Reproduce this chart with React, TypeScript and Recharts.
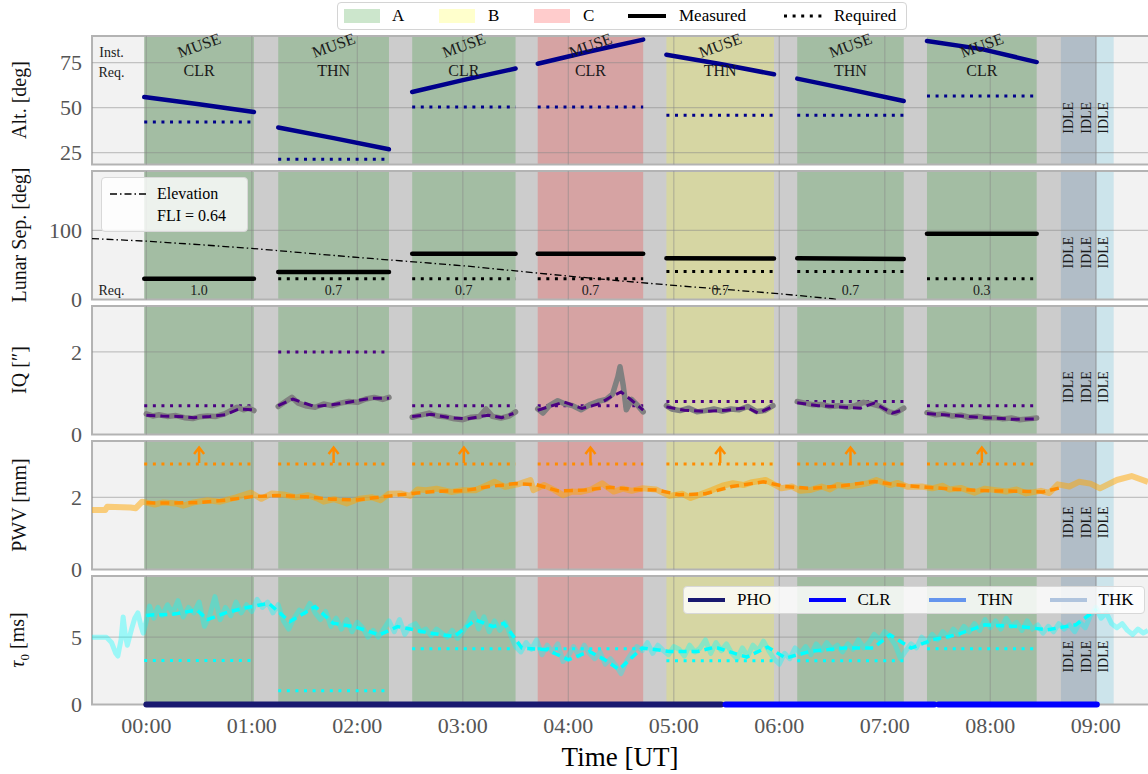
import React from "react";
import {
  ComposedChart,
  Line,
  XAxis,
  YAxis,
  ReferenceArea,
  ReferenceLine,
  ReferenceDot,
} from "recharts";

const FONT = '"Liberation Serif", "DejaVu Serif", serif';

// time axis (hours UT)
const hourTicks = [0, 1, 2, 3, 4, 5, 6, 7, 8, 9];
const xDomain = [-0.515, 9.495];
const nightSpan = [-0.02, 9.01];

// observation blocks
const obsStart = [-0.02, 1.25, 2.52, 3.71, 4.93, 6.17, 7.4];
const obsEnd = [1.02, 2.3, 3.5, 4.71, 5.95, 7.18, 8.44];
const obsCondition = ["A", "A", "A", "C", "B", "A", "A"];
const obsInstrument = ["MUSE", "MUSE", "MUSE", "MUSE", "MUSE", "MUSE", "MUSE"];
const obsSkyRequest = ["CLR", "THN", "CLR", "CLR", "THN", "THN", "CLR"];
const idleSpans = [
  [8.67, 9.01],
  [9.01, 9.17],
];
const idleLabels = [8.74, 8.91, 9.07];

// altitude [deg]: start, mid, end of each block
const altMeasured = [
  [55.9, 51.9, 47.6],
  [38.9, 33.0, 26.8],
  [58.7, 65.4, 71.7],
  [74.4, 81.3, 87.8],
  [79.4, 74.2, 68.5],
  [66.1, 60.0, 53.7],
  [87.0, 82.5, 75.3],
];
const altRequired = [42.0, 21.3, 50.3, 50.3, 45.7, 45.7, 56.5];

// lunar separation [deg]: start, end
const lunarMeasured = [
  [30.3, 30.3],
  [39.8, 39.8],
  [66.4, 66.4],
  [66.4, 66.4],
  [59.7, 59.4],
  [59.8, 58.8],
  [95.2, 95.2],
];
const lunarRequired = [30.3, 30.3, 30.3, 30.3, 40.8, 40.8, 30.3];
const fliRequired = ["1.0", "0.7", "0.7", "0.7", "0.7", "0.7", "0.3"];
const moonElevation = [
  [-0.515, 88.3], [0, 84.5], [0.5, 79.5], [1, 74], [1.5, 67.5], [2, 61],
  [2.5, 55], [3, 49], [3.5, 41.5], [4, 34], [4.5, 27], [5, 20.5],
  [5.5, 14.5], [6, 8.5], [6.5, 1.2], [6.56, 0],
];

// image quality [arcsec]
const iqRequired = [0.7, 2.0, 0.7, 0.7, 0.8, 0.8, 0.7];
const iqRaw = [
  [[0.0, 0.5], [0.06, 0.45], [0.12, 0.48], [0.2, 0.44], [0.28, 0.46], [0.36, 0.41], [0.44, 0.39], [0.5, 0.43], [0.58, 0.45], [0.66, 0.44], [0.74, 0.5], [0.8, 0.58], [0.86, 0.66], [0.92, 0.6], [0.97, 0.64], [1.02, 0.58]],
  [[1.25, 0.68], [1.32, 0.8], [1.38, 0.9], [1.44, 0.76], [1.52, 0.69], [1.6, 0.66], [1.68, 0.74], [1.76, 0.7], [1.84, 0.76], [1.92, 0.8], [2.0, 0.78], [2.08, 0.86], [2.16, 0.9], [2.24, 0.85], [2.3, 0.9]],
  [[2.52, 0.42], [2.6, 0.47], [2.68, 0.52], [2.76, 0.45], [2.84, 0.43], [2.92, 0.38], [3.0, 0.36], [3.08, 0.42], [3.16, 0.44], [3.22, 0.62], [3.28, 0.44], [3.36, 0.4], [3.44, 0.45], [3.5, 0.55]],
  [[3.71, 0.62], [3.76, 0.52], [3.82, 0.7], [3.9, 0.82], [3.96, 0.75], [4.04, 0.7], [4.12, 0.6], [4.2, 0.72], [4.28, 0.8], [4.36, 0.85], [4.42, 0.98], [4.47, 1.4], [4.49, 1.64], [4.52, 1.2], [4.55, 0.6], [4.6, 0.85], [4.66, 0.7], [4.71, 0.55]],
  [[4.93, 0.7], [4.98, 0.62], [5.06, 0.58], [5.14, 0.64], [5.22, 0.55], [5.3, 0.58], [5.38, 0.62], [5.46, 0.57], [5.54, 0.62], [5.62, 0.6], [5.7, 0.68], [5.78, 0.56], [5.86, 0.58], [5.94, 0.7]],
  [[6.17, 0.8], [6.24, 0.76], [6.32, 0.72], [6.4, 0.73], [6.48, 0.68], [6.56, 0.7], [6.64, 0.66], [6.72, 0.7], [6.8, 0.78], [6.88, 0.74], [6.96, 0.68], [7.04, 0.55], [7.1, 0.52], [7.18, 0.64]],
  [[7.4, 0.53], [7.48, 0.48], [7.56, 0.5], [7.64, 0.45], [7.72, 0.47], [7.8, 0.42], [7.88, 0.44], [7.96, 0.4], [8.04, 0.41], [8.12, 0.38], [8.2, 0.4], [8.28, 0.36], [8.36, 0.38], [8.44, 0.4]],
];
const iqSmooth = [
  [[0.0, 0.47], [0.15, 0.45], [0.3, 0.44], [0.45, 0.41], [0.6, 0.44], [0.75, 0.48], [0.88, 0.62], [1.02, 0.6]],
  [[1.25, 0.7], [1.39, 0.86], [1.59, 0.68], [1.76, 0.72], [1.93, 0.79], [2.13, 0.88], [2.3, 0.88]],
  [[2.52, 0.44], [2.7, 0.49], [2.87, 0.41], [3.04, 0.38], [3.24, 0.47], [3.37, 0.41], [3.48, 0.51]],
  [[3.71, 0.59], [3.85, 0.7], [3.96, 0.79], [4.13, 0.63], [4.3, 0.75], [4.4, 0.91], [4.5, 1.03], [4.6, 0.83], [4.71, 0.59]],
  [[4.93, 0.67], [5.1, 0.59], [5.3, 0.56], [5.5, 0.59], [5.7, 0.65], [5.8, 0.52], [5.93, 0.67]],
  [[6.17, 0.77], [6.37, 0.7], [6.57, 0.67], [6.77, 0.64], [6.9, 0.76], [7.07, 0.52], [7.18, 0.6]],
  [[7.4, 0.51], [7.62, 0.47], [7.82, 0.43], [8.02, 0.4], [8.22, 0.37], [8.44, 0.38]],
];

// precipitable water vapour [mm]
const pwvRequired = [2.92, 2.92, 2.92, 2.92, 2.92, 2.92, 2.92];
const pwvRaw = [
  [-0.515, 1.65], [-0.39, 1.65], [-0.37, 1.74], [-0.15, 1.72], [-0.1, 1.7], [-0.04, 1.88], [0.08, 1.8], [0.16, 1.86],
  [0.28, 1.83], [0.35, 1.77], [0.45, 1.86], [0.58, 1.92], [0.7, 1.88], [0.85, 2.0], [0.99, 2.13], [1.09, 1.96],
  [1.19, 2.11], [1.3, 2.08], [1.42, 2.0], [1.53, 2.06], [1.62, 1.97], [1.68, 1.88], [1.78, 1.95], [1.9, 1.83],
  [2.02, 1.96], [2.14, 2.0], [2.22, 1.92], [2.3, 2.1], [2.41, 2.11], [2.5, 2.04], [2.57, 2.22], [2.65, 2.2],
  [2.75, 2.24], [2.89, 2.15], [3.0, 2.2], [3.12, 2.2], [3.2, 2.3], [3.3, 2.43], [3.4, 2.29], [3.52, 2.36],
  [3.64, 2.48], [3.67, 2.2], [3.77, 2.34], [3.87, 2.2], [3.95, 2.06], [4.04, 2.16], [4.12, 2.15], [4.22, 2.22],
  [4.32, 2.39], [4.43, 2.16], [4.52, 2.24], [4.6, 2.18], [4.7, 2.25], [4.83, 2.22], [4.96, 2.04], [5.08, 2.1],
  [5.16, 1.98], [5.23, 2.06], [5.36, 2.2], [5.46, 2.32], [5.56, 2.39], [5.66, 2.34], [5.73, 2.41], [5.87, 2.48],
  [5.95, 2.36], [6.02, 2.25], [6.12, 2.3], [6.2, 2.18], [6.29, 2.2], [6.4, 2.3], [6.48, 2.22], [6.55, 2.34],
  [6.65, 2.3], [6.75, 2.34], [6.85, 2.4], [6.92, 2.48], [7.05, 2.34], [7.12, 2.4], [7.22, 2.29], [7.35, 2.3],
  [7.45, 2.25], [7.55, 2.32], [7.61, 2.22], [7.72, 2.26], [7.85, 2.13], [7.95, 2.24], [8.05, 2.2], [8.15, 2.16],
  [8.25, 2.22], [8.34, 2.11], [8.48, 2.18], [8.56, 2.12], [8.64, 2.36], [8.75, 2.3], [8.84, 2.43], [8.95, 2.38],
  [9.04, 2.25], [9.2, 2.48], [9.34, 2.59], [9.495, 2.43],
];
const pwvSmooth = [
  [0.0, 1.85], [0.25, 1.84], [0.5, 1.86], [0.75, 1.92], [1.0, 2.02], [1.25, 2.05], [1.5, 2.02], [1.75, 1.95],
  [2.0, 1.93], [2.25, 2.02], [2.5, 2.1], [2.75, 2.17], [3.0, 2.18], [3.25, 2.3], [3.5, 2.38], [3.7, 2.35],
  [3.9, 2.18], [4.15, 2.2], [4.4, 2.28], [4.6, 2.22], [4.85, 2.2], [5.05, 2.07], [5.3, 2.1], [5.55, 2.3],
  [5.85, 2.43], [6.05, 2.3], [6.3, 2.25], [6.6, 2.32], [6.9, 2.44], [7.1, 2.35], [7.4, 2.28], [7.7, 2.22],
  [8.0, 2.18], [8.3, 2.17], [8.5, 2.15], [8.67, 2.27],
];

// coherence time tau0 [ms]
const tauRequired = [3.27, 1.03, 4.14, 4.14, 3.25, 3.25, 4.14];
const tauRaw = [
  [-0.515, 5.0], [-0.45, 5.0], [-0.38, 5.0], [-0.33, 4.6], [-0.29, 3.8], [-0.27, 3.6], [-0.24, 4.8], [-0.22, 6.5],
  [-0.2, 5.2], [-0.18, 4.4], [-0.14, 5.6], [-0.11, 6.4], [-0.08, 6.8], [-0.05, 5.8], [-0.03, 5.3], [0.0, 6.2],
  [0.03, 7.3], [0.07, 6.4], [0.11, 7.2], [0.15, 6.6], [0.2, 7.4], [0.25, 6.8], [0.3, 7.7], [0.35, 6.5],
  [0.4, 7.2], [0.45, 6.8], [0.5, 7.6], [0.55, 5.8], [0.6, 6.6], [0.65, 8.0], [0.7, 6.3], [0.75, 7.2],
  [0.8, 6.6], [0.85, 7.6], [0.9, 6.8], [0.95, 7.4], [1.0, 6.9], [1.05, 7.8], [1.1, 7.2], [1.15, 7.6],
  [1.2, 6.8], [1.25, 7.4], [1.3, 6.2], [1.35, 5.6], [1.4, 6.4], [1.45, 7.0], [1.5, 6.8], [1.55, 7.5],
  [1.6, 6.8], [1.65, 6.3], [1.7, 6.9], [1.75, 5.8], [1.8, 6.4], [1.85, 5.6], [1.9, 6.3], [1.95, 5.4],
  [2.0, 6.1], [2.05, 5.7], [2.1, 5.0], [2.15, 5.5], [2.2, 5.0], [2.25, 5.6], [2.3, 6.2], [2.35, 5.4],
  [2.4, 6.3], [2.45, 5.2], [2.5, 5.8], [2.55, 6.0], [2.6, 5.4], [2.65, 5.6], [2.7, 5.1], [2.75, 5.6],
  [2.8, 5.3], [2.85, 5.0], [2.9, 5.5], [2.95, 4.9], [3.0, 5.4], [3.05, 6.0], [3.1, 6.8], [3.15, 5.6],
  [3.2, 6.5], [3.25, 5.4], [3.3, 6.2], [3.35, 5.5], [3.4, 6.1], [3.45, 5.2], [3.5, 4.3], [3.55, 3.9],
  [3.6, 4.6], [3.65, 4.1], [3.7, 4.8], [3.75, 3.7], [3.8, 4.4], [3.85, 3.9], [3.9, 4.5], [3.95, 3.2],
  [4.0, 3.6], [4.05, 4.3], [4.1, 3.6], [4.15, 4.4], [4.2, 3.8], [4.25, 3.4], [4.3, 3.9], [4.35, 3.0],
  [4.4, 3.4], [4.45, 2.9], [4.5, 2.3], [4.55, 3.2], [4.6, 3.8], [4.65, 4.3], [4.7, 4.0], [4.75, 4.6],
  [4.8, 3.8], [4.85, 4.4], [4.9, 4.0], [4.95, 3.7], [5.0, 4.3], [5.05, 4.1], [5.1, 3.6], [5.15, 4.4],
  [5.2, 3.9], [5.25, 4.2], [5.3, 4.8], [5.35, 3.8], [5.4, 4.6], [5.45, 4.0], [5.5, 4.5], [5.55, 3.8],
  [5.6, 3.4], [5.65, 4.2], [5.7, 3.6], [5.75, 4.4], [5.8, 4.0], [5.85, 4.7], [5.9, 4.0], [5.95, 3.4],
  [6.0, 3.0], [6.05, 3.8], [6.1, 3.4], [6.15, 4.2], [6.2, 3.8], [6.25, 4.3], [6.3, 3.7], [6.35, 4.5],
  [6.4, 4.0], [6.45, 4.6], [6.5, 4.1], [6.55, 4.4], [6.6, 3.9], [6.65, 4.5], [6.7, 4.1], [6.75, 4.8],
  [6.8, 4.2], [6.85, 4.6], [6.9, 5.2], [6.95, 4.8], [7.0, 5.4], [7.05, 5.0], [7.1, 4.4], [7.15, 3.4],
  [7.2, 4.0], [7.25, 4.5], [7.3, 4.2], [7.35, 5.0], [7.4, 4.6], [7.45, 5.2], [7.5, 4.8], [7.55, 5.4],
  [7.6, 5.0], [7.65, 5.6], [7.7, 5.2], [7.75, 5.8], [7.8, 5.4], [7.85, 6.0], [7.9, 5.5], [7.95, 6.3],
  [8.0, 5.7], [8.05, 6.2], [8.1, 5.6], [8.15, 6.4], [8.2, 5.8], [8.25, 6.1], [8.3, 5.5], [8.35, 6.2],
  [8.4, 5.6], [8.45, 5.9], [8.5, 5.3], [8.55, 5.8], [8.6, 5.4], [8.65, 6.0], [8.7, 5.6], [8.75, 5.9],
  [8.8, 5.4], [8.85, 6.1], [8.9, 5.7], [8.95, 6.6], [9.0, 7.2], [9.05, 6.4], [9.1, 6.8], [9.15, 6.0],
  [9.2, 5.7], [9.25, 6.0], [9.3, 5.5], [9.35, 5.2], [9.4, 5.6], [9.45, 5.3], [9.495, 5.5],
];
const tauSmooth = [
  [0.0, 6.6], [0.07, 6.65], [0.25, 6.7], [0.48, 7.0], [0.58, 6.3], [0.75, 6.8], [0.92, 7.14], [1.16, 7.5],
  [1.36, 6.15], [1.6, 7.26], [1.77, 6.03], [1.97, 5.78], [2.21, 5.17], [2.38, 5.78], [2.5, 5.6], [2.68, 5.3],
  [2.92, 5.05], [3.12, 6.28], [3.29, 5.78], [3.39, 6.03], [3.56, 4.19], [3.8, 4.06], [4.0, 3.32], [4.2, 3.94],
  [4.35, 3.3], [4.48, 2.6], [4.7, 4.19], [4.96, 3.94], [5.23, 3.94], [5.39, 4.26], [5.69, 3.52], [5.89, 4.26],
  [6.06, 3.45], [6.29, 3.94], [6.62, 4.19], [6.89, 4.19], [7.05, 5.17], [7.25, 4.19], [7.45, 4.8], [7.68, 5.17],
  [7.95, 5.91], [8.28, 5.78], [8.54, 5.54], [8.81, 5.91], [9.01, 7.07],
];

// sky transparency bands at the bottom
const bandStart = [0.0, 5.49, 7.51];
const bandEnd = [5.45, 7.47, 9.01];
const bandFilter = ["PHO", "CLR", "CLR"];

const conditionColor: Record<string, string> = { A: "#008000", B: "#ffff00", C: "#ff0000" };
const filterColor: Record<string, string> = {
  PHO: "#191970",
  CLR: "#0000ff",
  THN: "#6495ed",
  THK: "#b0c4de",
};

const PANEL_TOP = 35.7;
const PANEL_PITCH = 135;
const PANEL_H = 128.6;
const PLOT_LEFT = 92;
const DOT = "3 5.6";
const DASH = "9 5";

const pts = (arr: number[][]) => arr.map(([x, y]) => ({ x, y }));
const mid = (i: number) => (obsStart[i] + obsEnd[i]) / 2;

function seg(key: string, data: any[], stroke: string, width: number, extra: any = {}) {
  return (
    <Line
      key={key}
      data={data}
      dataKey="y"
      type="linear"
      stroke={stroke}
      strokeWidth={width}
      dot={false}
      activeDot={false}
      isAnimationActive={false}
      legendType="none"
      {...extra}
    />
  );
}

function note(key: string, x: number, y: number, text: string, size: number, angle = 0) {
  return (
    <ReferenceDot
      key={key}
      x={x}
      y={y}
      r={0}
      ifOverflow="visible"
      shape={(p: any) => (
        <text
          x={p.cx}
          y={p.cy}
          fontSize={size}
          textAnchor="middle"
          dominantBaseline="central"
          fill="#1a1a1a"
          transform={angle ? `rotate(${angle} ${p.cx} ${p.cy})` : undefined}
        >
          {text}
        </text>
      )}
    />
  );
}

function background(k: string, yTicks: number[], domain: number[]) {
  const out: any[] = [];
  out.push(<ReferenceArea key={k + "bg"} x1={xDomain[0]} x2={xDomain[1]} fill="#f2f2f2" fillOpacity={1} />);
  out.push(<ReferenceArea key={k + "night"} x1={nightSpan[0]} x2={nightSpan[1]} fill="#cccccc" fillOpacity={1} />);
  obsStart.forEach((s, i) =>
    out.push(
      <ReferenceArea key={k + "obs" + i} x1={s} x2={obsEnd[i]} fill={conditionColor[obsCondition[i]]} fillOpacity={0.2} />
    )
  );
  out.push(<ReferenceArea key={k + "idle0"} x1={idleSpans[0][0]} x2={idleSpans[0][1]} fill="#4682b4" fillOpacity={0.2} />);
  out.push(<ReferenceArea key={k + "idle1"} x1={idleSpans[1][0]} x2={idleSpans[1][1]} fill="#add8e6" fillOpacity={0.55} />);
  hourTicks.forEach((h) =>
    out.push(<ReferenceLine key={k + "vx" + h} x={h} stroke="#888" strokeOpacity={0.45} strokeWidth={1.3} />)
  );
  yTicks
    .filter((t) => t !== 0)
    .forEach((t) =>
      out.push(<ReferenceLine key={k + "hy" + t} y={t} stroke="#888" strokeOpacity={0.45} strokeWidth={1.3} />)
    );
  // axes frame
  out.push(
    <ReferenceArea
      key={k + "frame"}
      x1={xDomain[0]}
      x2={xDomain[1] + 0.2}
      y1={domain[0]}
      y2={domain[1]}
      fill="none"
      stroke="#b3b3b3"
      strokeWidth={2}
      ifOverflow="visible"
    />
  );
  return out;
}

function idleNotes(k: string, y: number) {
  return idleLabels.map((x, i) => note(k + "idle" + i, x, y, "IDLE", 14, -90));
}

function Panel({ index, domain, ticks, children, bottom }: any) {
  const top = PANEL_TOP + index * PANEL_PITCH;
  return (
    <div style={{ position: "absolute", left: 0, top }}>
      <ComposedChart
        width={1148}
        height={PANEL_H + (bottom ? 50 : 0)}
        margin={{ top: 0, right: 0, bottom: 0, left: 0 }}
      >
        <XAxis
          type="number"
          dataKey="x"
          domain={xDomain}
          allowDataOverflow
          ticks={hourTicks}
          interval={0}
          hide={!bottom}
          height={50}
          tickLine={false}
          axisLine={false}
          tickSize={0}
          tickMargin={13}
          tick={{ fontSize: 22, fill: "#555" }}
          tickFormatter={(h: number) => `0${h}:00`}
        />
        <YAxis
          type="number"
          domain={domain}
          allowDataOverflow
          ticks={ticks}
          interval={0}
          width={PLOT_LEFT}
          tickLine={false}
          axisLine={false}
          tickSize={0}
          tickMargin={10}
          tick={{ fontSize: 22, fill: "#555" }}
        />
        {children}
      </ComposedChart>
    </div>
  );
}

function YLabel({ index, children }: any) {
  const cy = PANEL_TOP + index * PANEL_PITCH + PANEL_H / 2;
  return (
    <div
      style={{
        position: "absolute",
        left: 19,
        top: cy,
        transform: "translate(-50%, -50%) rotate(-90deg)",
        whiteSpace: "nowrap",
        fontSize: 20,
        color: "#111",
      }}
    >
      {children}
    </div>
  );
}

const lbl = (left: number, text: string, size = 17) => (
  <span style={{ position: "absolute", left, top: 0, lineHeight: "26px", fontSize: size }}>{text}</span>
);

export default function App() {
  const altYTicks = [25, 50, 75];
  const lunYTicks = [0, 100];
  const iqYTicks = [0, 2];
  const pwvYTicks = [0, 2];
  const tauYTicks = [0, 5];
  const altDomain = [18.3, 89.8];
  const lunDomain = [0, 186];
  const iqDomain = [0, 3.11];
  const pwvDomain = [0, 3.56];
  const tauDomain = [0, 9.53];

  return (
    <div
      style={{
        position: "absolute",
        left: 0,
        top: 0,
        width: 1148,
        height: 774,
        background: "#fff",
        fontFamily: FONT,
        overflow: "hidden",
      }}
    >
      <style>{`svg { overflow: visible; }`}</style>

      {/* Altitude */}
      <Panel index={0} domain={altDomain} ticks={altYTicks}>
        {background("a", altYTicks, altDomain)}
        {obsStart.map((s, i) =>
          seg("areq" + i, pts([[s, altRequired[i]], [obsEnd[i], altRequired[i]]]), "#00008b", 3, { strokeDasharray: DOT })
        )}
        {obsStart.map((s, i) =>
          seg(
            "alt" + i,
            pts([[s, altMeasured[i][0]], [mid(i), altMeasured[i][1]], [obsEnd[i], altMeasured[i][2]]]),
            "#00008b",
            4.5,
            { strokeLinecap: "round" }
          )
        )}
        {obsStart.map((_, i) => note("mu" + i, mid(i), 84.6, obsInstrument[i], 16, -20))}
        {obsStart.map((_, i) => note("sk" + i, mid(i), 70.8, obsSkyRequest[i], 16))}
        {note("inst", -0.33, 80.5, "Inst.", 14)}
        {note("req", -0.33, 69.6, "Req.", 14)}
        {idleNotes("a", 44.3)}
      </Panel>

      {/* Lunar separation */}
      <Panel index={1} domain={lunDomain} ticks={lunYTicks}>
        {background("l", lunYTicks, lunDomain)}
        {seg("elev", pts(moonElevation), "#000", 1.3, { strokeDasharray: "7 3 1.5 3" })}
        {obsStart.map((s, i) =>
          seg("lreq" + i, pts([[s, lunarRequired[i]], [obsEnd[i], lunarRequired[i]]]), "#000", 3, { strokeDasharray: DOT })
        )}
        {obsStart.map((s, i) =>
          seg("lun" + i, pts([[s, lunarMeasured[i][0]], [obsEnd[i], lunarMeasured[i][1]]]), "#000", 4.5, {
            strokeLinecap: "round",
          })
        )}
        {obsStart.map((_, i) => note("fli" + i, mid(i), 13.2, fliRequired[i], 14))}
        {note("lreq", -0.33, 13.2, "Req.", 14)}
        {idleNotes("l", 68)}
      </Panel>

      {/* Image quality */}
      <Panel index={2} domain={iqDomain} ticks={iqYTicks}>
        {background("q", iqYTicks, iqDomain)}
        {obsStart.map((s, i) =>
          seg("qreq" + i, pts([[s, iqRequired[i]], [obsEnd[i], iqRequired[i]]]), "#4b0082", 3, { strokeDasharray: DOT })
        )}
        {iqRaw.map((d, i) => seg("qraw" + i, pts(d), "#808080", 5.5, { strokeLinejoin: "round", strokeLinecap: "round" }))}
        {iqSmooth.map((d, i) => seg("qsm" + i, pts(d), "#4b0082", 3, { strokeDasharray: DASH }))}
        {idleNotes("q", 1.15)}
      </Panel>

      {/* PWV */}
      <Panel index={3} domain={pwvDomain} ticks={pwvYTicks}>
        {background("p", pwvYTicks, pwvDomain)}
        {obsStart.map((s, i) =>
          seg("preq" + i, pts([[s, pwvRequired[i]], [obsEnd[i], pwvRequired[i]]]), "#ff8c00", 3, { strokeDasharray: DOT })
        )}
        {obsStart.map((_, i) => (
          <ReferenceDot
            key={"arr" + i}
            x={mid(i)}
            y={pwvRequired[i] + 0.03}
            r={0}
            ifOverflow="visible"
            shape={(p: any) => (
              <path
                d={`M${p.cx},${p.cy} L${p.cx},${p.cy - 15} M${p.cx - 5},${p.cy - 9} L${p.cx},${p.cy - 15.5} L${p.cx + 5},${p.cy - 9}`}
                stroke="#ff8c00"
                strokeWidth={2.5}
                fill="none"
              />
            )}
          />
        ))}
        {seg("praw", pts(pwvRaw), "#ffa500", 6, { strokeOpacity: 0.5, strokeLinejoin: "round" })}
        {seg("psm", pts(pwvSmooth), "#ff8c00", 3.5, { strokeDasharray: DASH })}
        {idleNotes("p", 1.31)}
      </Panel>

      {/* tau0 */}
      <Panel index={4} domain={tauDomain} ticks={tauYTicks} bottom>
        {background("t", tauYTicks, tauDomain)}
        {obsStart.map((s, i) =>
          seg("treq" + i, pts([[s, tauRequired[i]], [obsEnd[i], tauRequired[i]]]), "#00ffff", 3, { strokeDasharray: DOT })
        )}
        {seg("traw", pts(tauRaw), "#00ffff", 5, { strokeOpacity: 0.36, strokeLinejoin: "round" })}
        {seg("tsm", pts(tauSmooth), "#00ffff", 3.5, { strokeDasharray: "8 5" })}
        {bandStart.map((s, i) => (
          <ReferenceLine
            key={"band" + i}
            segment={[
              { x: s, y: 0 },
              { x: bandEnd[i], y: 0 },
            ]}
            stroke={filterColor[bandFilter[i]]}
            strokeWidth={6}
            strokeLinecap="round"
            ifOverflow="visible"
          />
        ))}
        {idleNotes("t", 3.55)}
      </Panel>

      {/* y labels */}
      <YLabel index={0}>Alt. [deg]</YLabel>
      <YLabel index={1}>Lunar Sep. [deg]</YLabel>
      <YLabel index={2}>IQ [″]</YLabel>
      <YLabel index={3}>PWV [mm]</YLabel>
      <YLabel index={4}>
        <span style={{ fontStyle: "italic" }}>τ</span>
        <sub style={{ fontSize: 13 }}>0</sub> [ms]
      </YLabel>

      <div
        style={{
          position: "absolute",
          left: 620,
          top: 757,
          transform: "translate(-50%, -50%)",
          fontSize: 27,
          whiteSpace: "nowrap",
        }}
      >
        Time [UT]
      </div>

      {/* top legend */}
      <div
        style={{
          position: "absolute",
          left: 337,
          top: 2,
          width: 570,
          height: 28,
          border: "1px solid #d4d4d4",
          borderRadius: 4,
          boxSizing: "border-box",
          background: "#fff",
        }}
      >
        <div style={{ position: "absolute", left: 6, top: 6, width: 36, height: 14, background: "rgba(0,128,0,0.2)" }} />
        {lbl(54, "A")}
        <div style={{ position: "absolute", left: 101, top: 6, width: 36, height: 14, background: "rgba(255,255,0,0.2)" }} />
        {lbl(150, "B")}
        <div style={{ position: "absolute", left: 196, top: 6, width: 36, height: 14, background: "rgba(255,0,0,0.2)" }} />
        {lbl(245, "C")}
        <div style={{ position: "absolute", left: 290, top: 11, width: 38, height: 4, background: "#000" }} />
        {lbl(341, "Measured")}
        <svg style={{ position: "absolute", left: 446, top: 8 }} width={40} height={10}>
          <line x1={0} y1={5} x2={40} y2={5} stroke="#000" strokeWidth={3} strokeDasharray={DOT} />
        </svg>
        {lbl(496, "Required")}
      </div>

      {/* elevation legend */}
      <div
        style={{
          position: "absolute",
          left: 101,
          top: 177,
          width: 147,
          height: 55,
          border: "1px solid #d8d8d8",
          borderRadius: 4,
          boxSizing: "border-box",
          background: "rgba(255,255,255,0.8)",
        }}
      >
        <svg style={{ position: "absolute", left: 8, top: 11 }} width={36} height={10}>
          <line x1={0} y1={5} x2={36} y2={5} stroke="#000" strokeWidth={1.3} strokeDasharray="7 3 1.5 3" />
        </svg>
        <span style={{ position: "absolute", left: 55, top: 3, lineHeight: "26px", fontSize: 16 }}>Elevation</span>
        <span style={{ position: "absolute", left: 55, top: 25, lineHeight: "26px", fontSize: 16 }}>FLI = 0.64</span>
      </div>

      {/* filter legend */}
      <div
        style={{
          position: "absolute",
          left: 683,
          top: 586,
          width: 462,
          height: 28,
          border: "1px solid #d8d8d8",
          borderRadius: 4,
          boxSizing: "border-box",
          background: "rgba(255,255,255,0.82)",
        }}
      >
        {["PHO", "CLR", "THN", "THK"].map((f, i) => (
          <React.Fragment key={f}>
            <div
              style={{
                position: "absolute",
                left: 4 + i * 120.5,
                top: 11,
                width: 37,
                height: 4,
                background: filterColor[f],
              }}
            />
            {lbl(53 + i * 120.5, f, 17)}
          </React.Fragment>
        ))}
      </div>
    </div>
  );
}
